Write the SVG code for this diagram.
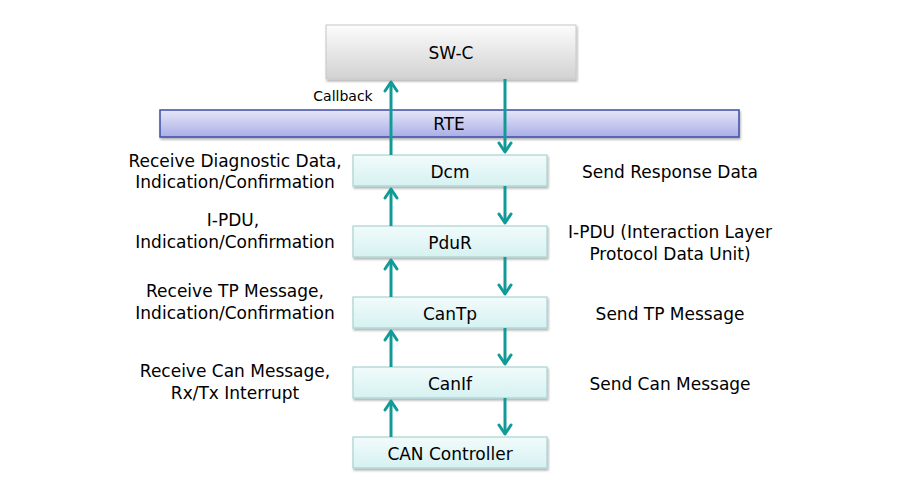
<svg xmlns="http://www.w3.org/2000/svg" width="912" height="481" viewBox="0 0 912 481">
<style>
  text { font-family: "DejaVu Sans", "Noto Sans", sans-serif; fill: #000; }
  .lbl { font-size: 17px; text-anchor: middle; }
  .box { font-size: 17px; text-anchor: middle; }
  .mod { fill: url(#gMod); stroke: #a9d3d3; stroke-width: 1.2; filter: url(#sh); }
  .conn line { stroke: #119a97; stroke-width: 3; fill: none; }
  .conn polyline { stroke: #119a97; stroke-width: 3; fill: none; stroke-linecap: round; stroke-linejoin: round; }
</style>
<defs>
  <linearGradient id="gMod" x1="0" y1="0" x2="0" y2="1">
    <stop offset="0" stop-color="#f2fbfb"/>
    <stop offset="1" stop-color="#d6f1f1"/>
  </linearGradient>
  <linearGradient id="gSw" x1="0" y1="0" x2="0" y2="1">
    <stop offset="0" stop-color="#fcfcfc"/>
    <stop offset="1" stop-color="#d2d2d2"/>
  </linearGradient>
  <linearGradient id="gRte" x1="0" y1="0" x2="0" y2="1">
    <stop offset="0" stop-color="#e6e6f8"/>
    <stop offset="1" stop-color="#aaaee6"/>
  </linearGradient>
  <filter id="sh" x="-5%" y="-20%" width="110%" height="150%">
    <feDropShadow dx="1" dy="2" stdDeviation="1.2" flood-color="#000" flood-opacity="0.3"/>
  </filter>
</defs>

<g id="swc">
  <rect x="326" y="25" width="250" height="54" fill="url(#gSw)" stroke="#c8c8c8" stroke-width="1" filter="url(#sh)"/>
  <text class="box" x="451" y="59">SW-C</text>
</g>

<g id="rte">
  <rect x="160" y="110" width="579" height="27" fill="url(#gRte)" stroke="#3d4ea6" stroke-width="1.5" filter="url(#sh)"/>
  <text class="box" x="449" y="130">RTE</text>
</g>

<g id="dcm">
  <rect class="mod" x="353" y="155" width="194" height="31"/>
  <text class="box" x="450" y="178">Dcm</text>
</g>
<g id="pdur">
  <rect class="mod" x="353" y="226" width="194" height="31"/>
  <text class="box" x="450" y="249">PduR</text>
</g>
<g id="cantp">
  <rect class="mod" x="353" y="297" width="194" height="31"/>
  <text class="box" x="450" y="320">CanTp</text>
</g>
<g id="canif">
  <rect class="mod" x="353" y="367" width="194" height="31"/>
  <text class="box" x="450" y="390">CanIf</text>
</g>
<g id="cancontroller">
  <rect class="mod" x="353" y="437" width="194" height="31"/>
  <text class="box" x="450" y="460">CAN Controller</text>
</g>

<g id="connectors" class="conn">
  <line x1="391" y1="155" x2="391" y2="82"/>
  <polyline points="385,91 391,82 397,91"/>
  <line x1="391" y1="226" x2="391" y2="189"/>
  <polyline points="385,198 391,189 397,198"/>
  <line x1="391" y1="297" x2="391" y2="260"/>
  <polyline points="385,269 391,260 397,269"/>
  <line x1="391" y1="367" x2="391" y2="331"/>
  <polyline points="385,340 391,331 397,340"/>
  <line x1="391" y1="437" x2="391" y2="401"/>
  <polyline points="385,410 391,401 397,410"/>
  <line x1="505" y1="79" x2="505" y2="152"/>
  <polyline points="499,143 505,152 511,143"/>
  <line x1="505" y1="186" x2="505" y2="223"/>
  <polyline points="499,214 505,223 511,214"/>
  <line x1="505" y1="257" x2="505" y2="294"/>
  <polyline points="499,285 505,294 511,285"/>
  <line x1="505" y1="328" x2="505" y2="364"/>
  <polyline points="499,355 505,364 511,355"/>
  <line x1="505" y1="398" x2="505" y2="434"/>
  <polyline points="499,425 505,434 511,425"/>
</g>

<g id="labels">
  <text x="343" y="101" style="font-size:14px; text-anchor:middle">Callback</text>
  <text class="lbl" x="235" y="167">Receive Diagnostic Data,</text>
  <text class="lbl" x="235" y="188">Indication/Confirmation</text>
  <text class="lbl" x="233" y="226">I-PDU,</text>
  <text class="lbl" x="235" y="248">Indication/Confirmation</text>
  <text class="lbl" x="235" y="297">Receive TP Message,</text>
  <text class="lbl" x="235" y="319">Indication/Confirmation</text>
  <text class="lbl" x="235" y="377">Receive Can Message,</text>
  <text class="lbl" x="235" y="399">Rx/Tx Interrupt</text>
  <text class="lbl" x="670" y="178">Send Response Data</text>
  <text class="lbl" x="670" y="238">I-PDU (Interaction Layer</text>
  <text class="lbl" x="670" y="260">Protocol Data Unit)</text>
  <text class="lbl" x="670" y="320">Send TP Message</text>
  <text class="lbl" x="670" y="390">Send Can Message</text>
</g>
</svg>
